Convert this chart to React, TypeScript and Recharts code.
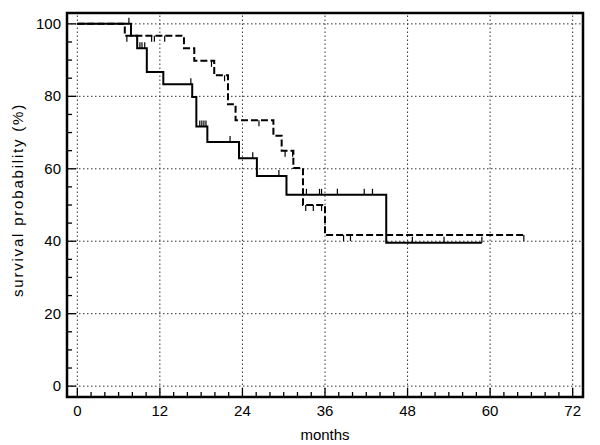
import {
  ComposedChart,
  Line,
  Scatter,
  XAxis,
  YAxis,
  ReferenceLine,
  ReferenceArea,
} from "recharts";

// Kaplan-Meier steps (months, survival %)
const solidTimes = [0, 7.8, 8.7, 10.1, 12.5, 16.7, 17.3, 18.9, 23.5, 26.1, 30.4, 44.9, 58.8];
const solidSurv = [100, 96.7, 93.3, 86.7, 83.3, 79.8, 71.7, 67.4, 62.9, 58.0, 52.8, 39.6, 39.6];
const solidCensored = [7.5, 9.1, 9.4, 9.8, 16.5, 17.8, 18.1, 18.4, 18.7, 22.2, 25.5, 29.3, 33.3, 35.2, 35.5, 37.8, 41.7, 42.9, 48.7, 53.3, 58.8];

const dashedTimes = [0, 6.9, 15.5, 17.0, 19.9, 21.9, 23.0, 28.5, 29.7, 31.4, 32.8, 36.0, 64.9];
const dashedSurv = [100, 96.7, 93.3, 89.8, 85.8, 77.8, 73.4, 69.1, 65.0, 60.2, 50.0, 41.7, 41.7];
const dashedCensored = [7.2, 10.8, 11.2, 12.7, 19.5, 21.4, 26.4, 30.2, 31.3, 33.2, 34.3, 35.5, 38.7, 39.7, 64.9];

const xTicks = [0, 2, 4, 6, 8, 10, 12, 14, 16, 18, 20, 22, 24, 26, 28, 30, 32, 34, 36, 38, 40, 42, 44, 46, 48, 50, 52, 54, 56, 58, 60, 62, 64, 66, 68, 70, 72];
const yTicks = [0, 5, 10, 15, 20, 25, 30, 35, 40, 45, 50, 55, 60, 65, 70, 75, 80, 85, 90, 95, 100];
const xMajor = [0, 12, 24, 36, 48, 60, 72];
const yMajor = [0, 20, 40, 60, 80, 100];

const FONT = "'Liberation Sans', Arial, Helvetica, sans-serif";

function toPoints(times: number[], surv: number[]) {
  return times.map((t, i) => ({ t, s: surv[i] }));
}

function levelAt(times: number[], surv: number[], t: number) {
  let idx = 0;
  for (let i = 0; i < times.length; i++) if (times[i] <= t) idx = i;
  return surv[idx];
}

const solidData = toPoints(solidTimes, solidSurv);
const dashedData = toPoints(dashedTimes, dashedSurv);
const solidMarks = solidCensored.map((t) => ({ t, s: levelAt(solidTimes, solidSurv, t) }));
const dashedMarks = dashedCensored.map((t) => ({ t, s: levelAt(dashedTimes, dashedSurv, t) }));

function XTick(props: any) {
  const { x, y, payload } = props;
  const major = payload.value % 12 === 0;
  return (
    <g>
      <line x1={x} x2={x} y1={y} y2={y - (major ? 9 : 5)} stroke="#000" strokeWidth={1.3} />
      {major && (
        <text x={x} y={y + 19} textAnchor="middle" fontSize={15} fontFamily={FONT} fill="#000">
          {payload.value}
        </text>
      )}
    </g>
  );
}

function YTick(props: any) {
  const { x, y, payload } = props;
  const major = payload.value % 20 === 0;
  return (
    <g>
      <line x1={x} x2={x + (major ? 9 : 5)} y1={y} y2={y} stroke="#000" strokeWidth={1.3} />
      {major && (
        <text x={x - 6} y={y + 5} textAnchor="end" fontSize={15} fontFamily={FONT} fill="#000">
          {payload.value}
        </text>
      )}
    </g>
  );
}

function YTitle() {
  const cx = 23;
  const cy = 200;
  return (
    <text
      x={cx}
      y={cy}
      transform={`rotate(-90 ${cx} ${cy})`}
      textAnchor="middle"
      fontSize={15}
      letterSpacing={1.8}
      fontFamily={FONT}
      fill="#000"
    >
      survival probability (%)
    </text>
  );
}

function TickUp(props: any) {
  const { cx, cy } = props;
  return <line x1={cx} x2={cx} y1={cy} y2={cy - 6} stroke="#000" strokeWidth={1.2} />;
}

function TickDown(props: any) {
  const { cx, cy } = props;
  return <line x1={cx} x2={cx} y1={cy} y2={cy + 6} stroke="#000" strokeWidth={1.2} />;
}

export default function App() {
  return (
    <div style={{ position: "absolute", left: 0, top: 0, background: "#fff" }}>
      <ComposedChart
        width={600}
        height={445}
        margin={{ top: 13, right: 17, left: 7, bottom: 3 }}
      >
        <XAxis
          type="number"
          dataKey="t"
          domain={[-1.5, 73.5]}
          allowDataOverflow
          ticks={xTicks}
          interval={0}
          tick={<XTick />}
          tickLine={false}
          axisLine={false}
          tickSize={0}
          tickMargin={0}
          height={45}
          label={{
            value: "months",
            position: "insideBottom",
            offset: 2,
            fill: "#000",
            fontSize: 15,
            fontFamily: FONT,
          }}
        />
        <YAxis
          type="number"
          dataKey="s"
          domain={[-3, 103]}
          allowDataOverflow
          ticks={yTicks}
          interval={0}
          tick={<YTick />}
          tickLine={false}
          axisLine={false}
          tickSize={0}
          tickMargin={0}
          width={60}
          label={<YTitle />}
        />
        {yMajor.map((v) => (
          <ReferenceLine key={`h${v}`} y={v} stroke="#333" strokeWidth={1} strokeDasharray="1.5 2.5" />
        ))}
        {xMajor.map((v) => (
          <ReferenceLine key={`v${v}`} x={v} stroke="#333" strokeWidth={1} strokeDasharray="1.5 2.5" />
        ))}
        <Line
          data={dashedData}
          dataKey="s"
          type="stepAfter"
          stroke="#000"
          strokeWidth={2}
          strokeDasharray="7 3"
          dot={false}
          activeDot={false}
          isAnimationActive={false}
        />
        <Line
          data={solidData}
          dataKey="s"
          type="stepAfter"
          stroke="#000"
          strokeWidth={2}
          dot={false}
          activeDot={false}
          isAnimationActive={false}
        />
        <Scatter data={solidMarks} dataKey="s" shape={<TickUp />} isAnimationActive={false} />
        <Scatter data={dashedMarks} dataKey="s" shape={<TickDown />} isAnimationActive={false} />
        <ReferenceArea
          x1={-1.5}
          x2={73.5}
          y1={-3}
          y2={103}
          fill="none"
          fillOpacity={0}
          stroke="#000"
          strokeWidth={2.5}
          ifOverflow="visible"
        />
      </ComposedChart>
    </div>
  );
}
